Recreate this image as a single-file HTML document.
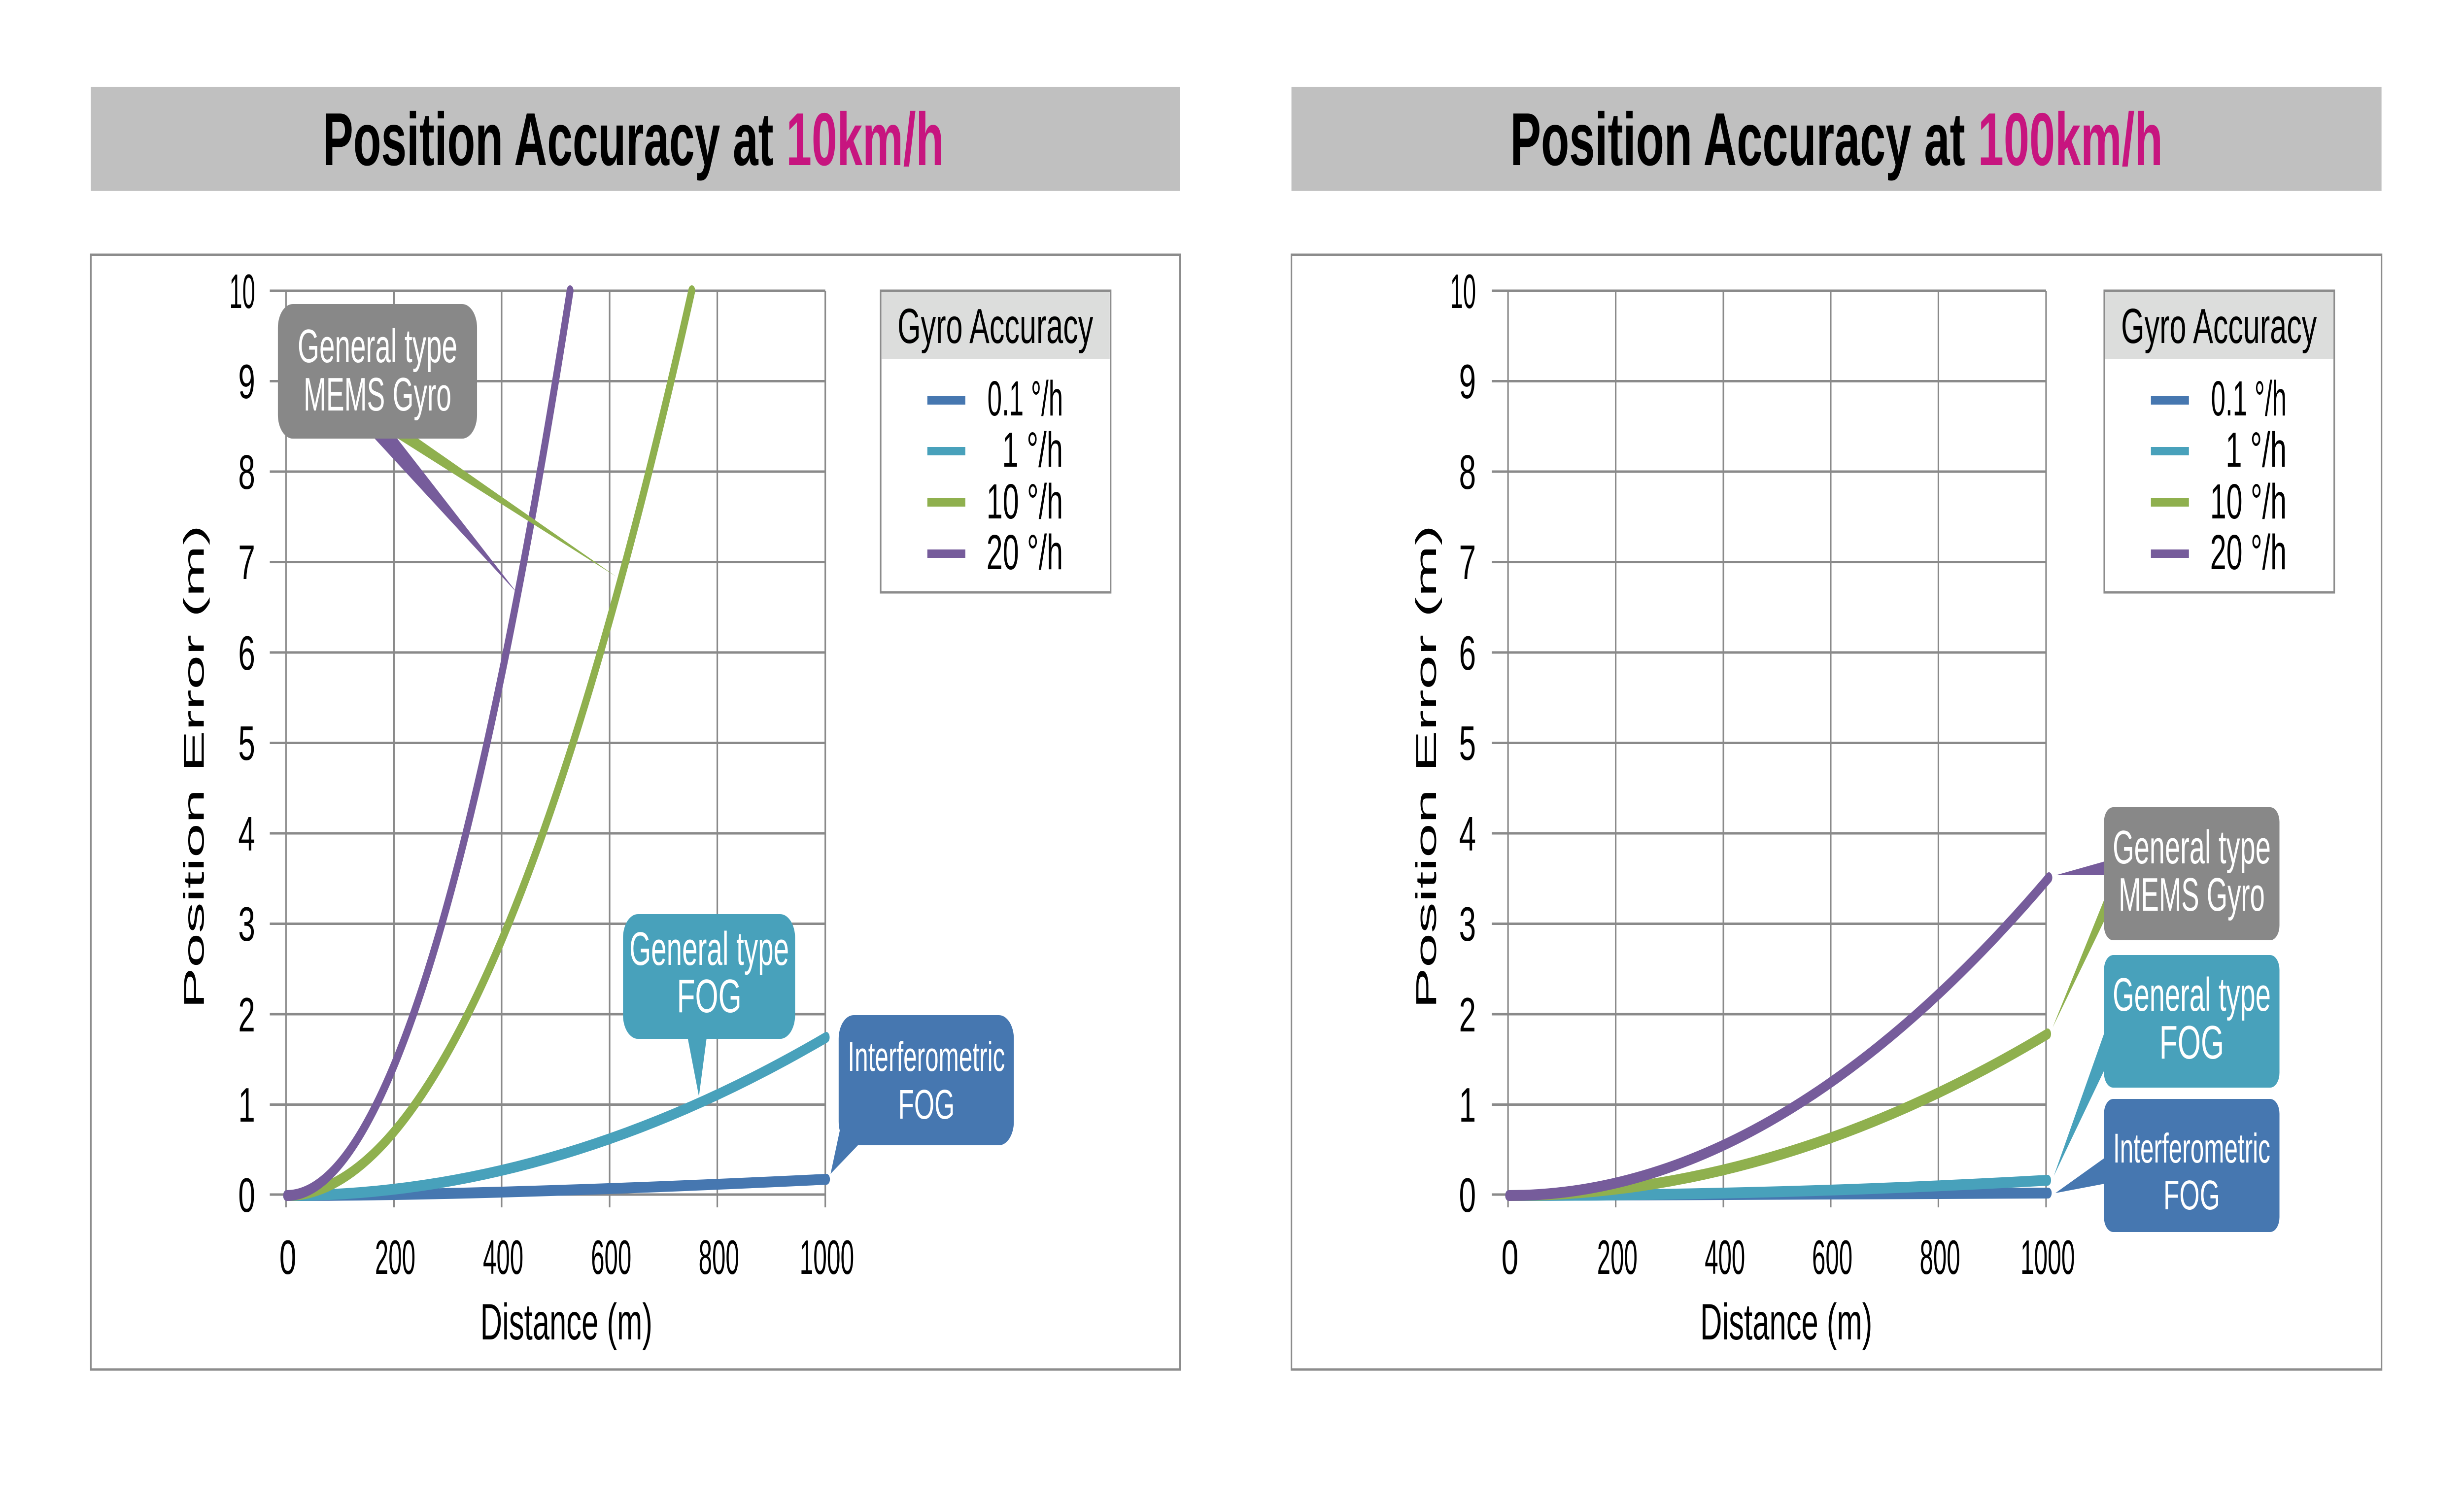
<!DOCTYPE html>
<html><head><meta charset="utf-8"><style>
html,body{margin:0;padding:0;background:#fff;width:100%;height:100%;overflow:hidden;}
svg{display:block;position:absolute;left:0;top:0;width:100vw;height:100vh;}
text{font-family:"Liberation Sans Narrow","Liberation Sans",sans-serif;}
</style></head><body>
<svg viewBox="0 0 7918 3056" preserveAspectRatio="none" xmlns="http://www.w3.org/2000/svg">
<rect width="7918" height="3056" fill="#fff"/>

<!-- ============ LEFT CHART ============ -->
<rect x="292" y="176" width="3500" height="211" fill="#c0c0c0"/>
<text x="1037" y="335" font-size="152" font-weight="bold" textLength="1996" lengthAdjust="spacingAndGlyphs"><tspan fill="#000">Position Accuracy at </tspan><tspan fill="#c7157f">10km/h</tspan></text>
<rect x="292" y="517" width="3500" height="2262" fill="none" stroke="#8c8c8c" stroke-width="5"/>

<g stroke="#8a8a8a" stroke-width="5">
<line x1="867" y1="590" x2="2652" y2="590"/><line x1="867" y1="773.5" x2="2652" y2="773.5"/>
<line x1="867" y1="957" x2="2652" y2="957"/><line x1="867" y1="1140.5" x2="2652" y2="1140.5"/>
<line x1="867" y1="1324" x2="2652" y2="1324"/><line x1="867" y1="1507.5" x2="2652" y2="1507.5"/>
<line x1="867" y1="1691" x2="2652" y2="1691"/><line x1="867" y1="1874.5" x2="2652" y2="1874.5"/>
<line x1="867" y1="2058" x2="2652" y2="2058"/><line x1="867" y1="2241.5" x2="2652" y2="2241.5"/>
<line x1="867" y1="2424" x2="2652" y2="2424"/>
<line x1="919" y1="590" x2="919" y2="2450"/><line x1="1266" y1="590" x2="1266" y2="2450"/>
<line x1="1612" y1="590" x2="1612" y2="2450"/><line x1="1959" y1="590" x2="1959" y2="2450"/>
<line x1="2305" y1="590" x2="2305" y2="2450"/><line x1="2652" y1="590" x2="2652" y2="2450"/>
</g>
<g font-size="98" text-anchor="end" fill="#000">
<text x="820" y="625" textLength="83" lengthAdjust="spacingAndGlyphs">10</text><text x="820" y="808">9</text><text x="820" y="992">8</text>
<text x="820" y="1175">7</text><text x="820" y="1359">6</text><text x="820" y="1542">5</text>
<text x="820" y="1726">4</text><text x="820" y="1909">3</text><text x="820" y="2093">2</text>
<text x="820" y="2276">1</text><text x="820" y="2459">0</text>
</g>
<g font-size="98" text-anchor="middle" fill="#000">
<text x="925" y="2585">0</text>
<text x="1270" y="2585" textLength="130" lengthAdjust="spacingAndGlyphs">200</text>
<text x="1617" y="2585" textLength="130" lengthAdjust="spacingAndGlyphs">400</text>
<text x="1964" y="2585" textLength="130" lengthAdjust="spacingAndGlyphs">600</text>
<text x="2310" y="2585" textLength="130" lengthAdjust="spacingAndGlyphs">800</text>
<text x="2657" y="2585" textLength="175" lengthAdjust="spacingAndGlyphs">1000</text>
</g>
<text x="1820" y="2718" font-size="104" text-anchor="middle" textLength="553" lengthAdjust="spacingAndGlyphs">Distance (m)</text>
<text transform="translate(655,1556) rotate(-90)" style="font-family:'Liberation Sans',sans-serif" font-size="92" text-anchor="middle" textLength="982" lengthAdjust="spacingAndGlyphs">Position Error (m)</text>

<g fill="none" stroke-width="22" stroke-linecap="round">
<path d="M921,2426 Q1575,2426 2656,2393" stroke="#4677b0"/>
<path d="M921,2426 Q1787,2426 2655,2105" stroke="#48a1bb"/>
<path d="M921,2426 Q1571,2426 2223,590" stroke="#8fb04e"/>
<path d="M921,2426 Q1376,2426 1832,590" stroke="#765c9b"/>
</g>

<rect x="2830" y="590" width="739" height="612" fill="#fff" stroke="#8c8c8c" stroke-width="5"/>
<rect x="2833" y="593" width="733" height="136" fill="#dcdddc"/>
<text x="2884" y="696" font-size="100" textLength="629" lengthAdjust="spacingAndGlyphs">Gyro Accuracy</text>
<rect x="2980" y="804" width="122" height="17" fill="#4677b0"/>
<rect x="2980" y="907" width="122" height="17" fill="#48a1bb"/>
<rect x="2980" y="1011" width="122" height="17" fill="#8fb04e"/>
<rect x="2980" y="1115" width="122" height="17" fill="#765c9b"/>
<g font-size="100">
<text x="3173" y="843" textLength="243" lengthAdjust="spacingAndGlyphs">0.1 °/h</text>
<text x="3220" y="947" textLength="196" lengthAdjust="spacingAndGlyphs">1 °/h</text>
<text x="3170" y="1052" textLength="246" lengthAdjust="spacingAndGlyphs">10 °/h</text>
<text x="3170" y="1155" textLength="246" lengthAdjust="spacingAndGlyphs">20 °/h</text>
</g>

<polygon points="1201,888 1274,888 1664,1205" fill="#765c9b"/>
<polygon points="1274,888 1339,888 1980,1170" fill="#8fb04e"/>
<rect x="893" y="617" width="640" height="273" rx="48" fill="#888888"/>
<text x="1213" y="735" font-size="96" fill="#fff" text-anchor="middle" textLength="513" lengthAdjust="spacingAndGlyphs">General type</text>
<text x="1213" y="833" font-size="96" fill="#fff" text-anchor="middle" textLength="475" lengthAdjust="spacingAndGlyphs">MEMS Gyro</text>

<polygon points="2208,2100 2272,2100 2246,2225" fill="#48a1bb"/>
<rect x="2002" y="1855" width="553" height="253" rx="48" fill="#48a1bb"/>
<text x="2279" y="1958" font-size="96" fill="#fff" text-anchor="middle" textLength="513" lengthAdjust="spacingAndGlyphs">General type</text>
<text x="2279" y="2054" font-size="96" fill="#fff" text-anchor="middle">FOG</text>

<polygon points="2700,2290 2760,2322 2669,2382" fill="#4677b0"/>
<rect x="2695" y="2060" width="563" height="264" rx="48" fill="#4677b0"/>
<text x="2977" y="2173" font-size="84" fill="#fff" text-anchor="middle" textLength="505" lengthAdjust="spacingAndGlyphs">Interferometric</text>
<text x="2977" y="2270" font-size="84" fill="#fff" text-anchor="middle">FOG</text>

<!-- ============ RIGHT CHART ============ -->
<rect x="4150" y="176" width="3503" height="211" fill="#c0c0c0"/>
<text x="4853" y="335" font-size="152" font-weight="bold" textLength="2097" lengthAdjust="spacingAndGlyphs"><tspan fill="#000">Position Accuracy at </tspan><tspan fill="#c7157f">100km/h</tspan></text>
<rect x="4150" y="517" width="3503" height="2262" fill="none" stroke="#8c8c8c" stroke-width="5"/>

<g stroke="#8a8a8a" stroke-width="5">
<line x1="4794" y1="590" x2="6575" y2="590"/><line x1="4794" y1="773.5" x2="6575" y2="773.5"/>
<line x1="4794" y1="957" x2="6575" y2="957"/><line x1="4794" y1="1140.5" x2="6575" y2="1140.5"/>
<line x1="4794" y1="1324" x2="6575" y2="1324"/><line x1="4794" y1="1507.5" x2="6575" y2="1507.5"/>
<line x1="4794" y1="1691" x2="6575" y2="1691"/><line x1="4794" y1="1874.5" x2="6575" y2="1874.5"/>
<line x1="4794" y1="2058" x2="6575" y2="2058"/><line x1="4794" y1="2241.5" x2="6575" y2="2241.5"/>
<line x1="4794" y1="2424" x2="6575" y2="2424"/>
<line x1="4846" y1="590" x2="4846" y2="2450"/><line x1="5192" y1="590" x2="5192" y2="2450"/>
<line x1="5538" y1="590" x2="5538" y2="2450"/><line x1="5883" y1="590" x2="5883" y2="2450"/>
<line x1="6229" y1="590" x2="6229" y2="2450"/><line x1="6575" y1="590" x2="6575" y2="2450"/>
</g>
<g font-size="98" text-anchor="end" fill="#000">
<text x="4743" y="625" textLength="83" lengthAdjust="spacingAndGlyphs">10</text><text x="4743" y="808">9</text><text x="4743" y="992">8</text>
<text x="4743" y="1175">7</text><text x="4743" y="1359">6</text><text x="4743" y="1542">5</text>
<text x="4743" y="1726">4</text><text x="4743" y="1909">3</text><text x="4743" y="2093">2</text>
<text x="4743" y="2276">1</text><text x="4743" y="2459">0</text>
</g>
<g font-size="98" text-anchor="middle" fill="#000">
<text x="4852" y="2585">0</text>
<text x="5197" y="2585" textLength="130" lengthAdjust="spacingAndGlyphs">200</text>
<text x="5543" y="2585" textLength="130" lengthAdjust="spacingAndGlyphs">400</text>
<text x="5888" y="2585" textLength="130" lengthAdjust="spacingAndGlyphs">600</text>
<text x="6234" y="2585" textLength="130" lengthAdjust="spacingAndGlyphs">800</text>
<text x="6580" y="2585" textLength="175" lengthAdjust="spacingAndGlyphs">1000</text>
</g>
<text x="5740" y="2718" font-size="104" text-anchor="middle" textLength="553" lengthAdjust="spacingAndGlyphs">Distance (m)</text>
<text transform="translate(4615,1556) rotate(-90)" style="font-family:'Liberation Sans',sans-serif" font-size="92" text-anchor="middle" textLength="982" lengthAdjust="spacingAndGlyphs">Position Error (m)</text>

<g fill="none" stroke-width="22" stroke-linecap="round">
<path d="M4848,2426 Q5715,2426 6582,2421" stroke="#4677b0"/>
<path d="M4848,2426 Q5715,2426 6580,2395" stroke="#48a1bb"/>
<path d="M4848,2426 Q5715,2426 6580,2098" stroke="#8fb04e"/>
<path d="M4848,2426 Q5715,2426 6584,1781" stroke="#765c9b"/>
</g>

<rect x="6762" y="590" width="739" height="612" fill="#fff" stroke="#8c8c8c" stroke-width="5"/>
<rect x="6765" y="593" width="733" height="136" fill="#dcdddc"/>
<text x="6816" y="696" font-size="100" textLength="629" lengthAdjust="spacingAndGlyphs">Gyro Accuracy</text>
<rect x="6912" y="804" width="122" height="17" fill="#4677b0"/>
<rect x="6912" y="907" width="122" height="17" fill="#48a1bb"/>
<rect x="6912" y="1011" width="122" height="17" fill="#8fb04e"/>
<rect x="6912" y="1115" width="122" height="17" fill="#765c9b"/>
<g font-size="100">
<text x="7105" y="843" textLength="243" lengthAdjust="spacingAndGlyphs">0.1 °/h</text>
<text x="7152" y="947" textLength="196" lengthAdjust="spacingAndGlyphs">1 °/h</text>
<text x="7102" y="1052" textLength="246" lengthAdjust="spacingAndGlyphs">10 °/h</text>
<text x="7102" y="1155" textLength="246" lengthAdjust="spacingAndGlyphs">20 °/h</text>
</g>

<polygon points="6780,1745 6780,1776 6606,1776" fill="#765c9b"/>
<polygon points="6780,1797 6780,1845 6596,2085" fill="#8fb04e"/>
<polygon points="6780,2064 6780,2148 6600,2386" fill="#48a1bb"/>
<polygon points="6780,2342 6780,2400 6605,2421" fill="#4677b0"/>

<rect x="6761" y="1638" width="564" height="270" rx="30" fill="#888888"/>
<text x="7043" y="1752" font-size="96" fill="#fff" text-anchor="middle" textLength="508" lengthAdjust="spacingAndGlyphs">General type</text>
<text x="7043" y="1848" font-size="96" fill="#fff" text-anchor="middle" textLength="470" lengthAdjust="spacingAndGlyphs">MEMS Gyro</text>

<rect x="6761" y="1938" width="564" height="269" rx="30" fill="#48a1bb"/>
<text x="7043" y="2051" font-size="96" fill="#fff" text-anchor="middle" textLength="508" lengthAdjust="spacingAndGlyphs">General type</text>
<text x="7043" y="2148" font-size="96" fill="#fff" text-anchor="middle">FOG</text>

<rect x="6761" y="2230" width="564" height="270" rx="30" fill="#4677b0"/>
<text x="7043" y="2359" font-size="84" fill="#fff" text-anchor="middle" textLength="505" lengthAdjust="spacingAndGlyphs">Interferometric</text>
<text x="7043" y="2454" font-size="84" fill="#fff" text-anchor="middle">FOG</text>
</svg>
</body></html>
